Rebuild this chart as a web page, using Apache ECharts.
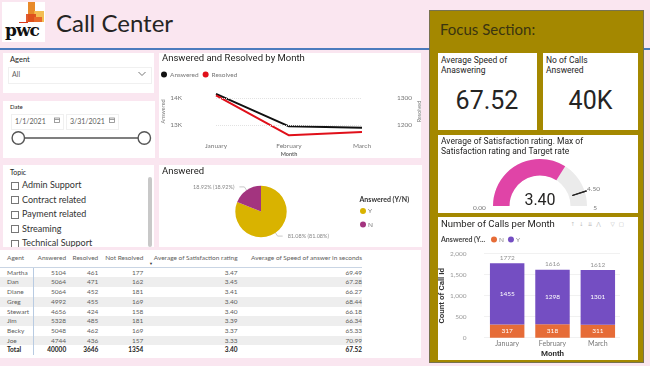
<!DOCTYPE html>
<html><head><meta charset="utf-8">
<script src="https://cdn.jsdelivr.net/npm/echarts@6/dist/echarts.min.js"></script>
<style>
html,body{margin:0;padding:0;width:650px;height:366px;overflow:hidden;background:#fae6f0;font-family:Lato,'Noto Sans',sans-serif;color:#252423;}
.p{position:absolute;background:#fff;}
.a{position:absolute;white-space:nowrap;}
.cb{position:absolute;width:6px;height:6px;border:1px solid #777;background:#fff;}
table{border-collapse:collapse;font-family:Lato,'Noto Sans',sans-serif;font-size:6.5px;color:#605e5c;table-layout:fixed;}
td,th{padding:0;white-space:nowrap;overflow:visible;height:9.7px;line-height:9.7px;font-weight:normal;}
th{height:16.7px;line-height:16.7px;border-bottom:1px solid #c9d5e4;}
tr.alt td{background:#eeeeee;}
tr.tot td{font-weight:bold;color:#252423;}
td.c1{border-right:1px solid #b8cbe2;padding-left:7px;text-align:left;}
th.c1{padding-left:7px;text-align:left;}
.r{text-align:right;}
</style></head><body>
<!-- header -->
<div class="p" style="left:2px;top:2px;width:43px;height:40px;"></div>
<div class="a" style="left:28px;top:2px;width:7px;height:20px;background:#e88a2a;"></div>
<div class="a" style="left:34px;top:11px;width:10px;height:11px;background:#f2b640;opacity:.9"></div>
<div class="a" style="left:26px;top:14px;width:10px;height:8px;background:#de4a1c;opacity:.9"></div>
<div class="a" style="left:34px;top:17px;width:8px;height:5px;background:#e86a2a;"></div>
<div class="a" style="left:19px;top:22px;width:9px;height:1px;background:#d93a1c;"></div>
<div class="a" style="left:5px;top:20px;font-family:'DejaVu Serif','Liberation Serif',serif;font-weight:bold;font-size:17px;color:#111;letter-spacing:-1px;">pwc</div>
<div class="a" style="left:56px;top:8px;font-family:Lato,sans-serif;font-size:24px;color:#252423;">Call Center</div>
<div class="a" style="left:0;top:48px;width:650px;height:1.5px;background:#4b7bbd;"></div>

<!-- agent slicer -->
<div class="p" style="left:3px;top:52.5px;width:151px;height:40px;"></div>
<div class="a" style="left:10px;top:55px;font-size:7.5px;">Agent</div>
<div class="a" style="left:8px;top:67px;width:142px;height:15px;border:1px solid #f0f0f0;"></div>
<div class="a" style="left:12px;top:70px;font-size:7px;color:#605e5c;">All</div>
<svg class="a" style="left:138px;top:71px;" width="8" height="6"><polyline points="0.5,1 4,4.5 7.5,1" fill="none" stroke="#777" stroke-width="1"/></svg>

<!-- date slicer -->
<div class="p" style="left:3px;top:101px;width:152px;height:57px;"></div>
<div class="a" style="left:10px;top:103px;font-size:6px;">Date</div>
<div class="a" style="left:10.5px;top:114px;width:51px;height:14px;border:1px solid #f0f0f0;"></div>
<div class="a" style="left:66px;top:114px;width:51px;height:14px;border:1px solid #f0f0f0;"></div>
<div class="a" id="d1" style="left:15px;top:117px;font-size:7px;color:#605e5c;"></div>
<div class="a" id="d2" style="left:70px;top:117px;font-size:7px;color:#605e5c;"></div>
<svg class="a" style="left:54px;top:117px;" width="6" height="6"><rect x="0.5" y="1" width="5" height="4.5" fill="none" stroke="#888" stroke-width="0.8"/><line x1="0.5" y1="2.5" x2="5.5" y2="2.5" stroke="#888" stroke-width="0.8"/></svg>
<svg class="a" style="left:109px;top:117px;" width="6" height="6"><rect x="0.5" y="1" width="5" height="4.5" fill="none" stroke="#888" stroke-width="0.8"/><line x1="0.5" y1="2.5" x2="5.5" y2="2.5" stroke="#888" stroke-width="0.8"/></svg>
<svg class="a" style="left:10px;top:130px;" width="144" height="16"><line x1="8" y1="8" x2="134" y2="8" stroke="#555" stroke-width="1.5"/><circle cx="8.3" cy="8" r="6.2" fill="#fff" stroke="#555" stroke-width="1.4"/><circle cx="134.3" cy="8" r="6.2" fill="#fff" stroke="#555" stroke-width="1.4"/></svg>

<!-- line chart panel -->
<div class="p" style="left:159px;top:52.5px;width:262px;height:105px;"></div>

<!-- topic slicer -->
<div class="p" style="left:3px;top:165px;width:151px;height:82px;overflow:hidden;" id="topicPanel">
  <div class="a" style="left:7px;top:3px;font-size:7px;">Topic</div>
  <div class="a" style="left:144.5px;top:12px;width:4px;height:70px;background:#c8c8c8;border-radius:2px;"></div>
</div>

<!-- pie panel -->
<div class="p" style="left:159px;top:165px;width:262.5px;height:82px;"></div>

<!-- table panel -->
<div class="p" style="left:0;top:250px;width:421px;height:108px;">
  <table id="tbl" style="position:absolute;left:0;top:0;width:362px;">
    <colgroup><col style="width:33px"><col style="width:33px"><col style="width:32px"><col style="width:45px"><col style="width:94px"><col style="width:124px"></colgroup>
    <thead><tr id="thead"></tr></thead><tbody id="tbody"></tbody>
  </table>
  <div class="a" style="left:149px;top:11px;font-size:4px;color:#333;">▼</div>
</div>

<!-- focus section -->
<div class="a" style="left:429px;top:10px;width:213px;height:351px;background:#a48800;border:1px solid #77724f;"></div>
<div class="a" style="left:440px;top:20px;font-family:Lato,sans-serif;font-size:15px;color:#3a3410;">Focus Section:</div>
<div class="p" style="left:437.5px;top:52.5px;width:99px;height:77.5px;">
  <div class="a" style="left:3.5px;top:2px;font-family:Roboto,sans-serif;font-size:8.5px;line-height:10px;color:#252423;">Average Speed of<br>Anaswering</div>
  <div class="a" id="kpi1" style="left:0;width:99px;text-align:center;top:33px;font-family:Roboto,sans-serif;font-size:25px;color:#252423;"></div>
</div>
<div class="p" style="left:543px;top:52.5px;width:95px;height:77.5px;">
  <div class="a" style="left:3px;top:2px;font-family:Roboto,sans-serif;font-size:8.5px;line-height:10px;color:#252423;">No of Calls<br>Answered</div>
  <div class="a" id="kpi2" style="left:0;width:95px;text-align:center;top:33px;font-family:Roboto,sans-serif;font-size:25px;color:#252423;"></div>
</div>
<div class="p" style="left:437.5px;top:135px;width:200.5px;height:78px;"></div>
<div class="p" style="left:437.5px;top:217px;width:200.5px;height:143px;">
  <div class="a" style="left:133px;top:4px;font-family:'DejaVu Sans',sans-serif;font-size:5.5px;color:#c0c0c0;letter-spacing:4px;">↑↓⇊⋀ ▽▢</div>
</div>

<div id="chart" style="position:absolute;left:0;top:0;width:650px;height:366px;z-index:5;"></div>
<script>
// ---------- data ----------
const months = ['January', 'February', 'March'];
const answeredByMonth = [14150, 12950, 12900];
const resolvedByMonth = [1310, 1162, 1174];
const answeredTicks = [13000, 14000];
const resolvedTicks = [1200, 1300];
const pieNames = ['Y', 'N'];
const pieValues = [4054, 946];
const callsN = [317, 318, 311];
const callsY = [1455, 1298, 1301];
const satisfaction = 3.40;
const satisfactionMax = 5;
const targetRate = 4.50;
const avgSpeedKpi = '67.52';
const callsAnsweredKpi = '40K';
const dateRange = ['1/1/2021', '3/31/2021'];
const topics = ['Admin Support', 'Contract related', 'Payment related', 'Streaming', 'Technical Support'];
const tableHeaders = ['Agent', 'Answered', 'Resolved', 'Not Resolved', 'Average of Satisfaction rating', 'Average of Speed of answer in seconds'];
const agents = ['Martha', 'Dan', 'Diane', 'Greg', 'Stewart', 'Jim', 'Becky', 'Joe'];
const agentAnswered = [5104, 5064, 5064, 4992, 4656, 5328, 5048, 4744];
const agentResolved = [461, 471, 452, 455, 424, 485, 462, 436];
const agentNotResolved = [177, 162, 181, 169, 158, 181, 169, 157];
const agentSatisfaction = ['3.47', '3.45', '3.41', '3.40', '3.40', '3.39', '3.37', '3.33'];
const agentSpeed = ['69.49', '67.28', '66.27', '68.44', '66.18', '66.34', '65.33', '70.99'];
const totalRow = ['Total', '40000', '3646', '1354', '3.40', '67.52'];

// ---------- html parts ----------
document.getElementById('kpi1').textContent = avgSpeedKpi;
document.getElementById('kpi2').textContent = callsAnsweredKpi;
document.getElementById('d1').textContent = dateRange[0];
document.getElementById('d2').textContent = dateRange[1];
const tp = document.getElementById('topicPanel');
topics.forEach((t, i) => {
  const top = 20 + i * 14.6;
  const b = document.createElement('div'); b.className = 'cb'; b.style.left = '8px'; b.style.top = (top - 3.5) + 'px'; tp.appendChild(b);
  const d = document.createElement('div'); d.className = 'a'; d.style.left = '19px'; d.style.top = (top - 6) + 'px';
  d.style.fontSize = '9px'; d.style.color = '#333'; d.textContent = t; tp.appendChild(d);
});
const th = document.getElementById('thead');
tableHeaders.forEach((h, i) => { const c = document.createElement('th'); c.textContent = h; c.className = i === 0 ? 'c1' : 'r'; th.appendChild(c); });
const tb = document.getElementById('tbody');
function addRow(vals, cls) {
  const tr = document.createElement('tr'); if (cls) tr.className = cls;
  vals.forEach((v, i) => { const c = document.createElement('td'); c.textContent = v; c.className = i === 0 ? 'c1' : 'r'; tr.appendChild(c); });
  tb.appendChild(tr);
}
agents.forEach((a, i) => addRow([a, agentAnswered[i], agentResolved[i], agentNotResolved[i], agentSatisfaction[i], agentSpeed[i]], i % 2 ? 'alt' : ''));
addRow(totalRow, 'tot');

// ---------- chart ----------
const fD = 'Roboto, "DejaVu Sans", sans-serif';
const fS = 'Lato, "Noto Sans", sans-serif';
const pieColors = ['#D9B300', '#A3347F'];
const targetAngle = 180 - targetRate / satisfactionMax * 180;
const pct = p => p.percent.toFixed(2) + '% (' + p.percent.toFixed(2) + '%)';
const chart = echarts.init(document.getElementById('chart'), null, { renderer: 'canvas' });
const titleStyle = { fontFamily: fD, fontSize: 9.5, fontWeight: 'normal', color: '#252423' };
chart.setOption({
  animation: false,
  title: [
    { text: 'Answered and Resolved by Month', left: 162, top: 54, padding: 0, textStyle: titleStyle },
    { text: 'Answered', left: 162, top: 167, padding: 0, textStyle: titleStyle },
    { text: 'Answered (Y/N)', left: 359.5, top: 196.5, padding: 0, textStyle: { fontFamily: fS, fontSize: 7, fontWeight: 'bold', color: '#333' } },
    { text: 'Average of Satisfaction rating. Max of\nSatisfaction rating and Target rate', left: 441, top: 137, padding: 0, textStyle: { fontFamily: fD, fontSize: 8.5, lineHeight: 10, fontWeight: 'normal', color: '#252423' } },
    { text: 'Number of Calls per Month', left: 441, top: 220, padding: 0, textStyle: titleStyle },
    { text: 'Answered (Y...', left: 441, top: 236, padding: 0, textStyle: { fontFamily: fS, fontSize: 7, fontWeight: 'bold', color: '#444' } }
  ],
  legend: [
    { data: ['Answered', 'Resolved'], left: 161, top: 71, padding: 0, icon: 'circle', itemWidth: 6, itemHeight: 6, itemGap: 4,
      textStyle: { fontFamily: fS, fontSize: 6.5, color: '#777', padding: [0, 0, 0, -2] } },
    { data: pieNames, orient: 'vertical', left: 360, top: 207.5, padding: 0, icon: 'circle', itemWidth: 6, itemHeight: 6, itemGap: 6.5,
      textStyle: { fontFamily: fS, fontSize: 6.5, color: '#777', padding: [0, 0, 0, -3] } },
    { data: ['Calls N', 'Calls Y'], left: 491, top: 236, padding: 0, icon: 'circle', itemWidth: 6, itemHeight: 6, itemGap: 4,
      formatter: n => n.replace('Calls ', ''), textStyle: { fontFamily: fS, fontSize: 6.5, color: '#888', padding: [0, 0, 0, -3] } }
  ],
  grid: [
    { left: 216, right: 288, top: 84.5, bottom: 227.5 },
    { left: 484.5, right: 29.5, top: 253.7, bottom: 28.3 }
  ],
  xAxis: [
    { gridIndex: 0, type: 'category', data: months, boundaryGap: false, axisLine: { show: false }, axisTick: { show: false },
      axisLabel: { fontFamily: fS, fontSize: 6.5, color: '#777', margin: 4 },
      name: 'Month', nameLocation: 'middle', nameGap: 12.5, nameTextStyle: { fontFamily: fS, fontSize: 5.5, fontWeight: 'bold', color: '#666' } },
    { gridIndex: 1, type: 'category', data: months, axisLine: { show: false }, axisTick: { show: false },
      axisLabel: { fontFamily: fS, fontSize: 7, color: '#777', margin: 3 },
      name: 'Month', nameLocation: 'middle', nameGap: 12, nameTextStyle: { fontFamily: fD, fontSize: 8, fontWeight: 'bold', color: '#333' } }
  ],
  yAxis: [
    { gridIndex: 0, type: 'value', min: 12500, max: 14500, interval: 500, splitLine: { show: false },
      axisLabel: { formatter: v => answeredTicks.includes(v) ? (v / 1000) + 'K' : '', fontFamily: fS, fontSize: 6.5, color: '#777', margin: 34 },
      name: 'Answered', nameLocation: 'middle', nameGap: 50, nameTextStyle: { fontFamily: fS, fontSize: 5.5, color: '#777' } },
    { gridIndex: 0, type: 'value', position: 'right', min: 1150, max: 1350, interval: 50, splitLine: { show: false },
      axisLabel: { formatter: v => resolvedTicks.includes(v) ? String(v) : '', fontFamily: fS, fontSize: 6.5, color: '#777', margin: 35 },
      name: 'Resolved', nameLocation: 'middle', nameGap: 52, nameTextStyle: { fontFamily: fS, fontSize: 5.5, color: '#777' } },
    { gridIndex: 1, type: 'value', min: 0, max: 2000, interval: 500,
      splitLine: { lineStyle: { type: 'dotted', color: '#e3e3e3' } },
      axisLabel: { formatter: v => v.toLocaleString('en-US'), fontFamily: fS, fontSize: 6.5, color: '#999', margin: 18 },
      name: 'Count of Call Id', nameLocation: 'middle', nameGap: 38, nameTextStyle: { fontFamily: fD, fontSize: 8, fontWeight: 'bold', color: '#333' } }
  ],
  series: [
    { type: 'line', name: 'Answered', xAxisIndex: 0, yAxisIndex: 0, data: answeredByMonth, symbol: 'none',
      lineStyle: { color: '#111', width: 2 }, itemStyle: { color: '#111' },
      markLine: { silent: true, symbol: 'none', label: { show: false }, lineStyle: { color: '#e2e2e2', type: 'dotted', width: 1 },
        data: answeredTicks.map(v => ({ yAxis: v })) } },
    { type: 'line', name: 'Resolved', xAxisIndex: 0, yAxisIndex: 1, data: resolvedByMonth, symbol: 'none',
      lineStyle: { color: '#e0101a', width: 2 }, itemStyle: { color: '#e0101a' } },
    { type: 'pie', name: 'Answered (Y/N)', center: [261, 211.5], radius: 25.7, startAngle: 90, clockwise: true,
      data: pieNames.map((n, i) => ({ name: n, value: pieValues[i], itemStyle: { color: pieColors[i] } })),
      label: { formatter: pct, fontFamily: fS, fontSize: 5.5, color: '#888' },
      labelLine: { length: 4, length2: 5, lineStyle: { color: '#bbb', width: 0.8 } } },
    { type: 'gauge', center: [540, 206], radius: 47, startAngle: 180, endAngle: 0, min: 0, max: satisfactionMax, splitNumber: 1,
      axisLine: { lineStyle: { width: 16.5, color: [[1, '#ebebeb']] } },
      progress: { show: true, width: 16.5, itemStyle: { color: '#E044A7' } },
      pointer: { show: false }, axisTick: { show: false }, splitLine: { show: false, length: 0, distance: 0 },
      axisLabel: { distance: -20, formatter: v => v === 0 ? '{a|0.00}' : '{b|' + v + '}', fontFamily: fS, fontSize: 6.5, color: '#777',
        rich: { a: { fontFamily: fS, fontSize: 6.5, color: '#777', padding: [3, 0, 0, 0] }, b: { fontFamily: fS, fontSize: 6.5, color: '#777', padding: [3, 10, 0, 0] } } },
      anchor: { show: false }, title: { show: false },
      detail: { formatter: v => v.toFixed(2), offsetCenter: [0, -5], fontFamily: fD, fontSize: 16, fontWeight: 'normal', color: '#252423' },
      data: [{ value: satisfaction }] },
    { type: 'gauge', center: [540, 206], radius: 47, startAngle: targetAngle, endAngle: targetAngle - 360, min: 0, max: 1, splitNumber: 1,
      axisLine: { show: false, lineStyle: { width: 0 } }, progress: { show: false }, pointer: { show: false }, axisTick: { show: false },
      splitLine: { show: true, length: 15, distance: -2, lineStyle: { color: '#252423', width: 1.3 } },
      axisLabel: { show: true, distance: -29, formatter: v => v === 0 ? '{t|' + targetRate.toFixed(2) + '}' : '', fontFamily: fS, fontSize: 6.5, color: '#777',
        rich: { t: { fontFamily: fS, fontSize: 6.5, color: '#777', padding: [5, 0, 0, 0] } } },
      anchor: { show: false }, title: { show: false }, detail: { show: false },
      data: [{ value: 0 }] },
    { type: 'bar', name: 'Calls N', xAxisIndex: 1, yAxisIndex: 2, stack: 'calls', data: callsN, barWidth: '76%',
      itemStyle: { color: '#E66C37' }, label: { show: true, position: 'inside', color: '#fff', fontFamily: fS, fontSize: 6.5 } },
    { type: 'bar', name: 'Calls Y', xAxisIndex: 1, yAxisIndex: 2, stack: 'calls', data: callsY, barWidth: '76%',
      itemStyle: { color: '#744EC2' }, label: { show: true, position: 'inside', color: '#fff', fontFamily: fS, fontSize: 6.5 } },
    { type: 'scatter', name: 'Total', xAxisIndex: 1, yAxisIndex: 2, data: callsN.map((n, i) => n + callsY[i]), symbolSize: 0, silent: true,
      label: { show: true, position: 'top', distance: 2, color: '#777', fontFamily: fS, fontSize: 6.5 } }
  ]
});
</script>
</body></html>
